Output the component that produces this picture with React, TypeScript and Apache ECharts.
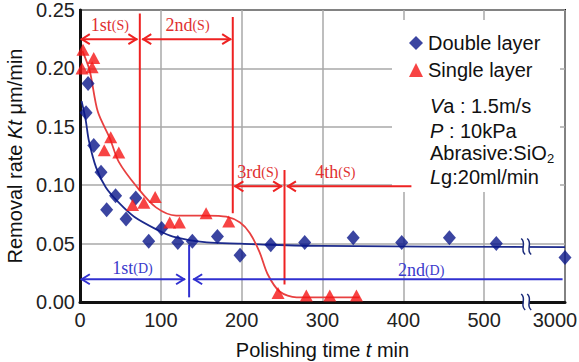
import React, { useEffect, useRef } from "react";
import * as echarts from "echarts";

// ---- data (time in min, rate in µm/min) ----
const xTickValues = [0, 100, 200, 300, 400, 500, 3000];
const yTickValues = [0, 0.05, 0.1, 0.15, 0.2, 0.25];

const doubleTime = [7.5, 10, 17, 26, 33, 44, 57, 69, 85, 101, 121, 139, 170, 198, 236, 278, 338, 398, 457, 515, 3000];
const doubleRate = [0.162, 0.187, 0.134, 0.111, 0.079, 0.091, 0.071, 0.089, 0.052, 0.063, 0.051, 0.052, 0.056, 0.040, 0.049, 0.051, 0.055, 0.051, 0.055, 0.050, 0.038];

const singleTime = [3.7, 17, 15, 2.5, 38, 30, 48, 65, 79, 93, 111, 123, 156, 184, 245, 280, 309, 342];
const singleRate = [0.216, 0.209, 0.201, 0.200, 0.141, 0.130, 0.128, 0.083, 0.085, 0.090, 0.068, 0.068, 0.076, 0.069, 0.0077, 0.0055, 0.0055, 0.0055];

const doubleFitTime = [2, 7, 11, 20, 32, 48, 67, 95, 115, 157, 198, 235, 300, 3000];
const doubleFitRate = [0.172, 0.156, 0.138, 0.115, 0.098, 0.085, 0.073, 0.062, 0.056, 0.051, 0.050, 0.049, 0.048, 0.047];

const singleFitTime = [3, 12, 22, 37, 48, 71, 94, 119, 157, 181, 198, 210, 222, 232, 247, 268, 346];
const singleFitRate = [0.215, 0.198, 0.163, 0.140, 0.120, 0.098, 0.081, 0.074, 0.074, 0.073, 0.068, 0.059, 0.043, 0.024, 0.009, 0.004, 0.004];

// stage annotations (axis units; 600 = the broken-axis position of 3000 min)
const redVLines = [[74, 0.095, 0.247], [189, 0.076, 0.244], [253, 0.015, 0.113]];
const blueVLines = [[135, 0.004, 0.049]];
// [x1, x2, y, heads(2 = both, 1 = left only)]
const redArrows = [[1, 71, 0.225, 2], [77, 187, 0.225, 2], [191, 250, 0.099, 2], [256, 410, 0.099, 1]];
const blueArrows = [[1, 130, 0.0195, 2], [140, 597, 0.0195, 1]];
const redStageLabels = ["1st", "2nd", "3rd", "4th"];
const redStagePos = [[37, 0.237], [133, 0.237], [220, 0.111], [316, 0.111]];
const blueStageLabels = ["1st", "2nd"];
const blueStagePos = [[65, 0.029], [422, 0.027]];
const breakMarks = [[552, 0.0475], [552, 0]];

const BREAK_TIME = 3000;
const BREAK_POS = 600;
const toAxis = (t: number) => (t >= BREAK_TIME ? BREAK_POS : t);
const zip = (xs: number[], ys: number[]) => xs.map((x, i) => [toAxis(x), ys[i]]);

const SANS = '"Liberation Sans", Arial, Helvetica, sans-serif';
const SERIF = '"Liberation Serif", "Times New Roman", serif';
const RED = "#ee2222";
const BLUE = "#3030d0";

function arrowRender(color: string) {
  return (params: any, api: any) => {
    const p1 = api.coord([api.value(0), api.value(2)]);
    const p2 = api.coord([api.value(1), api.value(2)]);
    const heads = api.value(3);
    const y = p1[1];
    const hl = 9, hw = 5;
    const st = { stroke: color, lineWidth: 2, fill: null };
    const children: any[] = [
      { type: "line", shape: { x1: p1[0], y1: y, x2: p2[0], y2: y }, style: { stroke: color, lineWidth: 2 } },
      { type: "polyline", shape: { points: [[p1[0] + hl, y - hw], [p1[0] + 1, y], [p1[0] + hl, y + hw]] }, style: st },
    ];
    if (heads === 2) {
      children.push({ type: "polyline", shape: { points: [[p2[0] - hl, y - hw], [p2[0] - 1, y], [p2[0] - hl, y + hw]] }, style: st });
    }
    return { type: "group", children };
  };
}

function vlineRender(color: string) {
  return (params: any, api: any) => {
    const a = api.coord([api.value(0), api.value(1)]);
    const b = api.coord([api.value(0), api.value(2)]);
    return { type: "line", shape: { x1: a[0], y1: a[1], x2: b[0], y2: b[1] }, style: { stroke: color, lineWidth: 2 } };
  };
}

function labelRender(color: string, names: string[], tag: string) {
  return (params: any, api: any) => {
    const p = api.coord([api.value(0), api.value(1)]);
    return {
      type: "text",
      style: {
        text: `{a|${names[params.dataIndex]}}{b|(${tag})}`,
        x: p[0],
        y: p[1],
        align: "center",
        verticalAlign: "middle",
        fill: color,
        rich: {
          a: { fontFamily: SERIF, fontSize: 18, fill: color },
          b: { fontFamily: SERIF, fontSize: 14, fill: color },
        },
      },
    };
  };
}

function breakRender(params: any, api: any) {
  const p = api.coord([api.value(0), api.value(1)]);
  const x = p[0], y = p[1];
  const curve = (dx: number) => ({
    type: "bezierCurve",
    shape: { x1: x + dx - 2, y1: y - 8, cpx1: x + dx + 4, cpy1: y - 3, cpx2: x + dx - 4, cpy2: y + 3, x2: x + dx + 2, y2: y + 8 },
    style: { stroke: "#1a2a7a", lineWidth: 1.5, fill: null },
  });
  return {
    type: "group",
    children: [
      { type: "rect", shape: { x: x - 3, y: y - 6, width: 6, height: 12 }, style: { fill: "#fff" } },
      curve(-3),
      curve(3),
    ],
  };
}

export default function App() {
  const ref = useRef<HTMLDivElement>(null);
  useEffect(() => {
    if (!ref.current) return;
    const chart = echarts.init(ref.current, undefined, { renderer: "svg" });
    const labelFont = { fontFamily: SANS, fontSize: 20, color: "#222" };
    const option: any = {
      animation: false,
      backgroundColor: "#fff",
      grid: {
        left: 80, right: 14, top: 10, bottom: 60,
        show: true, borderColor: "#111", borderWidth: 2, backgroundColor: "transparent",
        containLabel: false, outerBoundsMode: "none",
      },
      legend: {
        data: ["Double layer", "Single layer"],
        orient: "vertical",
        left: 404,
        top: 28,
        itemWidth: 14,
        itemHeight: 14,
        itemGap: 7,
        textStyle: { fontFamily: SANS, fontSize: 20, color: "#111" },
        z: 6,
      },
      xAxis: {
        type: "value",
        min: 0,
        max: BREAK_POS,
        interval: 100,
        name: "{n|Polishing time }{i|t}{n| min}",
        nameLocation: "middle",
        nameGap: 38,
        nameTextStyle: {
          rich: {
            n: { fontFamily: SANS, fontSize: 20, color: "#111" },
            i: { fontFamily: SANS, fontSize: 20, color: "#111", fontStyle: "italic" },
          },
        },
        axisLine: { lineStyle: { color: "#111", width: 3 } },
        axisTick: { show: false },
        axisLabel: {
          ...labelFont,
          margin: 8,
          formatter: (v: number) => (v === BREAK_POS ? `{e|${xTickValues[xTickValues.length - 1]}}` : String(v)),
          rich: { e: { ...labelFont, padding: [0, 20, 0, 0] } },
        },
        splitLine: { show: true, lineStyle: { color: "#a8a8a8", width: 1.5 } },
      },
      yAxis: {
        type: "value",
        min: yTickValues[0],
        max: yTickValues[yTickValues.length - 1],
        interval: 0.05,
        name: "{n|Removal rate }{i|Kt}{n| μm/min}",
        nameLocation: "middle",
        nameGap: 52,
        nameRotate: 90,
        nameTextStyle: {
          rich: {
            n: { fontFamily: SANS, fontSize: 20, color: "#111" },
            i: { fontFamily: SANS, fontSize: 20, color: "#111", fontStyle: "italic" },
          },
        },
        axisLine: { show: true, lineStyle: { color: "#111", width: 3 } },
        axisTick: { show: false },
        axisLabel: { ...labelFont, margin: 5, formatter: (v: number) => v.toFixed(2) },
        splitLine: { show: true, lineStyle: { color: "#a8a8a8", width: 1.5 } },
      },
      graphic: {
        elements: [
          { type: "rect", z: 1, shape: { x: 392, y: 20, width: 168, height: 172 }, style: { fill: "#fff" } },
          {
            type: "text", z: 5, left: 430, top: 96,
            style: { text: "{i|V}{n|a : 1.5m/s}", rich: { i: { fontFamily: SANS, fontSize: 20, fontStyle: "italic", fill: "#111" }, n: { fontFamily: SANS, fontSize: 20, fill: "#111" } } },
          },
          {
            type: "text", z: 5, left: 430, top: 121,
            style: { text: "{i|P}{n| : 10kPa}", rich: { i: { fontFamily: SANS, fontSize: 20, fontStyle: "italic", fill: "#111" }, n: { fontFamily: SANS, fontSize: 20, fill: "#111" } } },
          },
          {
            type: "text", z: 5, left: 430, top: 143,
            style: { text: "Abrasive:SiO", fontFamily: SANS, fontSize: 20, fill: "#111" },
          },
          {
            type: "text", z: 5, left: 547, top: 152,
            style: { text: "2", fontFamily: SANS, fontSize: 13, fill: "#111" },
          },
          {
            type: "text", z: 5, left: 430, top: 167,
            style: { text: "{i|L}{n|g:20ml/min}", rich: { i: { fontFamily: SANS, fontSize: 20, fontStyle: "italic", fill: "#111" }, n: { fontFamily: SANS, fontSize: 20, fill: "#111" } } },
          },
        ],
      },
      series: [
        {
          name: "Double fit",
          type: "line",
          data: zip(doubleFitTime, doubleFitRate),
          smooth: 0.3,
          showSymbol: false,
          lineStyle: { color: "#1c2a8c", width: 1.8 },
          z: 2,
        },
        {
          name: "Single fit",
          type: "line",
          data: zip(singleFitTime, singleFitRate),
          smooth: 0.3,
          showSymbol: false,
          lineStyle: { color: "#e84040", width: 1.8 },
          z: 2,
        },
        { type: "custom", name: "redV", renderItem: vlineRender(RED), data: redVLines, clip: false, z: 3 },
        { type: "custom", name: "blueV", renderItem: vlineRender(BLUE), data: blueVLines, clip: false, z: 3 },
        { type: "custom", name: "redArrows", renderItem: arrowRender(RED), data: redArrows, clip: false, z: 3 },
        { type: "custom", name: "blueArrows", renderItem: arrowRender(BLUE), data: blueArrows, clip: false, z: 3 },
        { type: "custom", name: "redLabels", renderItem: labelRender("#e03030", redStageLabels, "S"), data: redStagePos, clip: false, z: 4 },
        { type: "custom", name: "blueLabels", renderItem: labelRender("#3a3acc", blueStageLabels, "D"), data: blueStagePos, clip: false, z: 4 },
        { type: "custom", name: "breaks", renderItem: breakRender, data: breakMarks, clip: false, z: 4 },
        {
          name: "Double layer",
          type: "scatter",
          symbol: "diamond",
          symbolSize: [13, 15],
          data: zip(doubleTime, doubleRate),
          itemStyle: { color: "#0a168a" },
          z: 5,
        },
        {
          name: "Single layer",
          type: "scatter",
          symbol: "triangle",
          symbolSize: [13, 12],
          data: zip(singleTime, singleRate),
          itemStyle: { color: "#f51515" },
          z: 5,
        },
      ],
    };
    chart.setOption(option);
    return () => chart.dispose();
  }, []);
  return <div ref={ref} style={{ width: 579, height: 362, position: "absolute", left: 0, top: 0 }} />;
}
